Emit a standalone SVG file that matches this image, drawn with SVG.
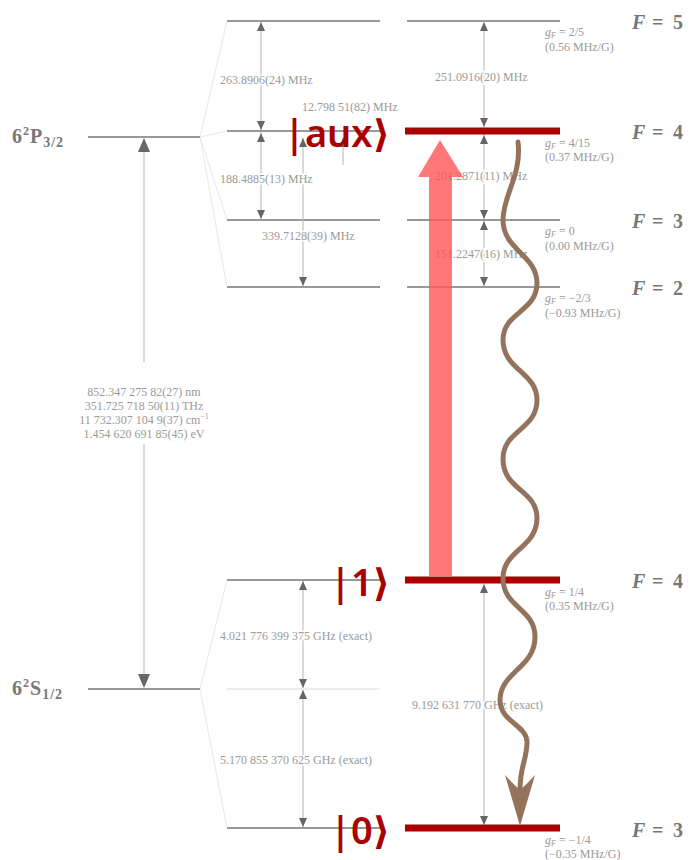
<svg xmlns="http://www.w3.org/2000/svg" xmlns:xlink="http://www.w3.org/1999/xlink" width="690" height="860" viewBox="0 0 690 860">
<style>
.lvl{stroke:#999;stroke-width:2;fill:none}
.cen{stroke:#e6e6e6;stroke-width:1.5;fill:none}
.fan{stroke:#e8e8e8;stroke-width:1;fill:none}
.iv{stroke:#b5b5b5;stroke-width:1;fill:none}
.ah{fill:#666}
.num{font-family:"Liberation Serif","DejaVu Serif",serif;font-size:12px;fill:#9a9a9a;paint-order:stroke;stroke:#fff;stroke-width:3px;stroke-linejoin:round}
.gf{font-family:"Liberation Serif","DejaVu Serif",serif;font-size:12px;fill:#9a9a9a}
.F{font-family:"Liberation Serif","DejaVu Serif",serif;font-size:20px;font-weight:bold;fill:#777}
.term{font-family:"Liberation Serif","DejaVu Serif",serif;font-size:20px;font-weight:bold;fill:#777;letter-spacing:1px}
.red{stroke:#aa0000;stroke-width:7;fill:none}
.ket{font-family:"Noto Sans","DejaVu Sans",sans-serif;font-size:38px;font-weight:600;fill:#aa0000}
</style>
<defs>
<path id="au" class="ah" d="M0,0 L-4,9 L4,9 Z"/>
<path id="ad" class="ah" d="M0,0 L-4,-9 L4,-9 Z"/>
<path id="bu" class="ah" d="M0,0 L-6,14 L6,14 Z"/>
<path id="bd" class="ah" d="M0,0 L-6,-14 L6,-14 Z"/>
</defs>

<g id="fan-lines">
<path class="fan" d="M200,137 L227,21 M200,137 L227,131 M200,137 L227,220 M200,137 L227,287 M200,689 L227,580 M200,689 L227,828"/>
</g>

<g id="term-P32">
<line class="lvl" x1="88" y1="137" x2="200" y2="137"/>
<text class="term" x="12" y="143">6<tspan font-size="12" dy="-8">2</tspan><tspan dy="8">P</tspan><tspan font-size="14" dy="4">3/2</tspan></text>
</g>
<g id="term-S12">
<line class="lvl" x1="88" y1="689" x2="200" y2="689"/>
<text class="term" x="12" y="695">6<tspan font-size="12" dy="-8">2</tspan><tspan dy="8">S</tspan><tspan font-size="14" dy="4">1/2</tspan></text>
</g>

<g id="P-F5">
<line class="lvl" x1="227" y1="21" x2="380" y2="21"/>
<line class="lvl" x1="407" y1="21" x2="560" y2="21"/>
<text class="gf" x="545" y="36"><tspan font-style="italic">g</tspan><tspan font-size="8" dy="2" font-style="italic">F</tspan><tspan dy="-2"> = 2/5</tspan></text>
<text class="gf" x="545" y="51">(0.56 MHz/G)</text>
<text class="F" y="29"><tspan x="632" font-style="italic">F</tspan><tspan x="652">=</tspan><tspan x="673">5</tspan></text>
</g>
<g id="P-F4">
<line class="lvl" x1="227" y1="131" x2="380" y2="131"/>
<text class="gf" x="545" y="147"><tspan font-style="italic">g</tspan><tspan font-size="8" dy="2" font-style="italic">F</tspan><tspan dy="-2"> = 4/15</tspan></text>
<text class="gf" x="545" y="161">(0.37 MHz/G)</text>
<text class="F" y="139"><tspan x="632" font-style="italic">F</tspan><tspan x="652">=</tspan><tspan x="673">4</tspan></text>
</g>
<g id="P-F3">
<line class="lvl" x1="227" y1="220" x2="380" y2="220"/>
<line class="lvl" x1="407" y1="220" x2="560" y2="220"/>
<text class="gf" x="545" y="235"><tspan font-style="italic">g</tspan><tspan font-size="8" dy="2" font-style="italic">F</tspan><tspan dy="-2"> = 0</tspan></text>
<text class="gf" x="545" y="250">(0.00 MHz/G)</text>
<text class="F" y="228"><tspan x="632" font-style="italic">F</tspan><tspan x="652">=</tspan><tspan x="673">3</tspan></text>
</g>
<g id="P-F2">
<line class="lvl" x1="227" y1="287" x2="380" y2="287"/>
<line class="lvl" x1="407" y1="287" x2="560" y2="287"/>
<text class="gf" x="545" y="302"><tspan font-style="italic">g</tspan><tspan font-size="8" dy="2" font-style="italic">F</tspan><tspan dy="-2"> = −2/3</tspan></text>
<text class="gf" x="545" y="317">(−0.93 MHz/G)</text>
<text class="F" y="295"><tspan x="632" font-style="italic">F</tspan><tspan x="652">=</tspan><tspan x="673">2</tspan></text>
</g>
<g id="S-F4">
<line class="lvl" x1="227" y1="580" x2="380" y2="580"/>
<text class="gf" x="545" y="596"><tspan font-style="italic">g</tspan><tspan font-size="8" dy="2" font-style="italic">F</tspan><tspan dy="-2"> = 1/4</tspan></text>
<text class="gf" x="545" y="610">(0.35 MHz/G)</text>
<text class="F" y="588"><tspan x="632" font-style="italic">F</tspan><tspan x="652">=</tspan><tspan x="673">4</tspan></text>
</g>
<g id="S-centroid">
<line class="cen" x1="227" y1="689" x2="380" y2="689"/>
</g>
<g id="S-F3">
<line class="lvl" x1="227" y1="828" x2="380" y2="828"/>
<text class="gf" x="545" y="844"><tspan font-style="italic">g</tspan><tspan font-size="8" dy="2" font-style="italic">F</tspan><tspan dy="-2"> = −1/4</tspan></text>
<text class="gf" x="545" y="858">(−0.35 MHz/G)</text>
<text class="F" y="837"><tspan x="632" font-style="italic">F</tspan><tspan x="652">=</tspan><tspan x="673">3</tspan></text>
</g>

<g id="connectors">
<path class="iv" d="M144,150 L144,362 M144,444 L144,675"/>
<use href="#bu" x="144" y="138"/>
<use href="#bd" x="144" y="688"/>
<text class="num" text-anchor="middle" x="144" y="396" stroke-width="0">852.347 275 82(27) nm</text>
<text class="num" text-anchor="middle" x="144" y="410" stroke-width="0">351.725 718 50(11) THz</text>
<text class="num" text-anchor="middle" x="144" y="424" stroke-width="0">11 732.307 104 9(37) cm<tspan font-size="8" dy="-5">−1</tspan></text>
<text class="num" text-anchor="middle" x="144" y="438" stroke-width="0">1.454 620 691 85(45) eV</text>

<path class="iv" d="M261,22 L261,130 M261,132 L261,219 M303,138 L303,286 M343,138 L343,165"/>
<use href="#au" x="261" y="22"/>
<use href="#ad" x="261" y="130"/>
<use href="#au" x="261" y="133"/>
<use href="#ad" x="261" y="219"/>
<use href="#au" x="303" y="138"/>
<use href="#ad" x="303" y="286"/>
<use href="#au" x="343" y="138"/>
<text class="num" x="220" y="84">263.8906(24) MHz</text>
<text class="num" x="302" y="111">12.798 51(82) MHz</text>
<text class="num" x="220" y="183">188.4885(13) MHz</text>
<text class="num" x="262" y="240">339.7128(39) MHz</text>

<path class="iv" d="M484,22 L484,130 M484,132 L484,219 M484,221 L484,286"/>
<use href="#au" x="484" y="22"/>
<use href="#ad" x="484" y="127"/>
<use href="#au" x="484" y="135"/>
<use href="#ad" x="484" y="219"/>
<use href="#au" x="484" y="221"/>
<use href="#ad" x="484" y="286"/>
<text class="num" x="435" y="81">251.0916(20) MHz</text>
<text class="num" x="435" y="180">201.2871(11) MHz</text>
<text class="num" x="435" y="258">151.2247(16) MHz</text>

<path class="iv" d="M303,581 L303,688 M303,690 L303,827 M484,584 L484,827"/>
<use href="#au" x="303" y="581"/>
<use href="#ad" x="303" y="688"/>
<use href="#au" x="303" y="690"/>
<use href="#ad" x="303" y="827"/>
<use href="#au" x="484" y="584"/>
<use href="#ad" x="484" y="825"/>
<text class="num" x="220" y="640">4.021 776 399 375 GHz (exact)</text>
<text class="num" x="220" y="764">5.170 855 370 625 GHz (exact)</text>
<text class="num" x="412" y="709">9.192 631 770 GHz (exact)</text>
</g>

<g id="state-aux">
<line class="red" x1="405" y1="131" x2="560" y2="131"/>
<text class="ket" text-anchor="end" x="390" y="147">|aux⟩</text>
</g>
<g id="state-1">
<line class="red" x1="405" y1="580" x2="560" y2="580"/>
<text class="ket" text-anchor="end" x="390" y="596">|1⟩</text>
</g>
<g id="state-0">
<line class="red" x1="405" y1="828" x2="560" y2="828"/>
<text class="ket" text-anchor="end" x="390" y="844">|0⟩</text>
</g>

<g id="laser-arrow">
<path d="M429,576 L429,177 L418,177 L440,140 L463,177 L452,177 L452,576 Z" fill="#ff5555" opacity="0.8"/>
</g>
<g id="decay-arrow">
<path d="M518,142 C522,175 503,195 503,220 C503,250 537,255 537,283 C537,312 503,312 503,340 C503,370 537,372 537,400 C537,430 503,430 503,459 C503,490 537,490 537,518 C537,548 503,550 503,578 C503,608 535,608 535,637 C535,668 500,672 500,700 C500,722 527,725 527,742 C527,760 520,765 520,790" fill="none" stroke="#93735c" stroke-width="5" stroke-linecap="round"/>
<path d="M520,826 L505,775 Q514,785 520,790 Q526,785 535,775 Z" fill="#93735c"/>
</g>
</svg>
